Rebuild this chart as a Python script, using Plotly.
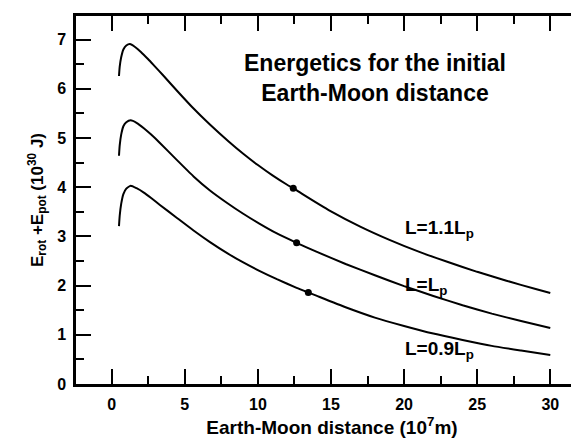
import plotly.graph_objects as go

# Data (Earth-Moon distance in 1e7 m, energy in 1e30 J)
x_hi = [0.5, 0.55, 0.65, 0.8, 1.0, 1.25, 1.6, 2.0, 2.5, 3.0, 3.5, 4.5, 5.5, 6.7, 8.0, 9.0, 10.0, 11.0, 12.0, 12.42, 13.0, 15.0, 17.0, 19.0, 21.0, 23.0, 25.0, 27.0, 29.0, 30.0]
y_hi = [6.26, 6.45, 6.64, 6.80, 6.88, 6.91, 6.85, 6.75, 6.60, 6.44, 6.28, 5.95, 5.63, 5.28, 4.93, 4.68, 4.45, 4.24, 4.05, 3.98, 3.87, 3.51, 3.20, 2.93, 2.69, 2.48, 2.28, 2.10, 1.93, 1.85]

x_mid = [0.5, 0.55, 0.65, 0.8, 1.0, 1.3, 1.7, 2.2, 2.7, 3.3, 4.4, 5.6, 6.7, 7.9, 9.0, 10.1, 11.3, 12.65, 14.0, 16.0, 18.0, 20.0, 22.0, 24.0, 26.0, 28.0, 30.0]
y_mid = [4.64, 4.85, 5.07, 5.24, 5.32, 5.36, 5.31, 5.20, 5.07, 4.90, 4.57, 4.22, 3.94, 3.68, 3.46, 3.26, 3.06, 2.87, 2.69, 2.44, 2.21, 1.99, 1.79, 1.60, 1.43, 1.28, 1.14]

x_lo = [0.5, 0.55, 0.65, 0.8, 1.0, 1.3, 1.7, 2.2, 2.7, 3.3, 4.4, 5.6, 6.7, 7.9, 9.0, 10.1, 11.3, 12.65, 13.45, 14.0, 16.0, 18.0, 20.0, 22.0, 24.0, 26.0, 28.0, 30.0]
y_lo = [3.21, 3.42, 3.66, 3.86, 3.97, 4.03, 3.98, 3.89, 3.78, 3.64, 3.39, 3.12, 2.89, 2.66, 2.47, 2.30, 2.13, 1.955, 1.86, 1.795, 1.56, 1.35, 1.18, 1.025, 0.895, 0.775, 0.68, 0.59]

dot_x = [12.42, 12.65, 13.45]
dot_y = [3.98, 2.87, 1.86]

labels = ["L=1.1L<sub>p</sub>", "L=L<sub>p</sub>", "L=0.9L<sub>p</sub>"]
label_x = [19.95, 19.95, 19.95]
label_y = [3.15, 2.0, 0.69]

x_ticks = [0, 5, 10, 15, 20, 25, 30]
y_ticks = [0, 1, 2, 3, 4, 5, 6, 7]

FONT = "Liberation Sans, Arial, sans-serif"

fig = go.Figure()
for xs, ys in [(x_hi, y_hi), (x_mid, y_mid), (x_lo, y_lo)]:
    fig.add_trace(go.Scatter(x=xs, y=ys, mode="lines",
                             line=dict(color="black", width=2, shape="spline", smoothing=0.5),
                             showlegend=False, hoverinfo="skip"))
fig.add_trace(go.Scatter(x=dot_x, y=dot_y, mode="markers", marker=dict(color="black", size=7),
                         showlegend=False))

for t, lx, ly in zip(labels, label_x, label_y):
    fig.add_annotation(x=lx, y=ly, text=t, showarrow=False, xanchor="left", yanchor="middle",
                       font=dict(family=FONT, size=19, color="black", weight="bold"))

fig.add_annotation(x=18.0, y=6.22, text="Energetics for the initial<br>Earth-Moon distance",
                   showarrow=False, xanchor="center", yanchor="middle", align="center",
                   font=dict(family=FONT, size=23, color="black", weight="bold"))

axis_common = dict(showline=True, linecolor="black", linewidth=2.5, mirror="ticks", ticks="inside",
                   ticklen=15, tickwidth=2, tickcolor="black", showgrid=False, zeroline=False,
                   ticklabelstandoff=4,
                   tickfont=dict(family=FONT, size=16, color="black", weight="bold"))

# page body has an 8px default margin, so the figure is laid out relative to that offset
fig.update_layout(
    width=600, height=442,
    margin=dict(l=68, r=20, t=5, b=66),
    paper_bgcolor="white", plot_bgcolor="white",
    xaxis=dict(range=[-2.44, 32.58], tickmode="array", tickvals=x_ticks,
               minor=dict(ticks="inside", ticklen=8, tickwidth=2, tickcolor="black", dtick=2.5, tick0=0),
               title=dict(text="Earth-Moon distance (10<sup>7</sup>m)", standoff=9,
                          font=dict(family=FONT, size=19, color="black", weight="bold")),
               **axis_common),
    yaxis=dict(range=[0, 7.48], tickmode="array", tickvals=y_ticks,
               minor=dict(ticks="inside", ticklen=8, tickwidth=2, tickcolor="black", dtick=0.5, tick0=0),
               title=dict(text="E<sub>rot</sub> +E<sub>pot</sub> (10<sup>30</sup> J)", standoff=10,
                          font=dict(family=FONT, size=17, color="black", weight="bold")),
               **axis_common),
)

fig.write_html("out.html")
